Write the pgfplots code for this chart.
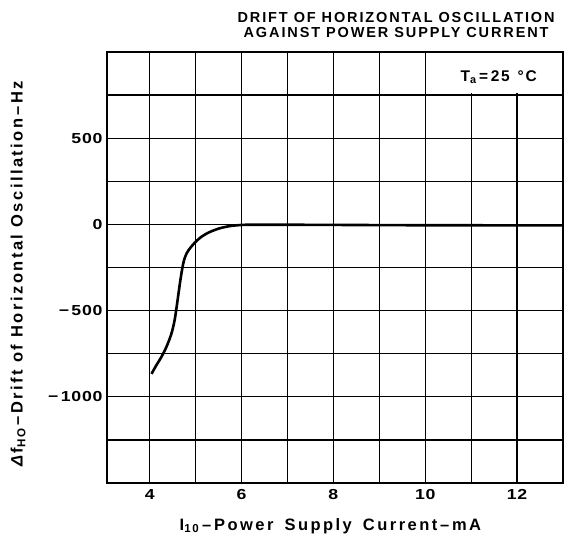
\documentclass[border=0pt]{standalone}
\usepackage{fontspec}
\setmainfont{Liberation Sans}
\usepackage{pgfplots}
\pgfplotsset{compat=1.18}
\newcommand{\tickfont}{\fontsize{14.5}{17}\selectfont\bfseries\addfontfeature{FakeStretch=1.22,LetterSpace=5}}
\newcommand{\labfont}{\fontsize{16.5}{19}\selectfont\bfseries\addfontfeature{LetterSpace=15}}
\begin{document}
\begin{tikzpicture}
\begin{axis}[
  scale only axis,
  width=456pt, height=431pt,
  xmin=3.07, xmax=13, ymin=-1500, ymax=1000,
  xtick={4,6,8,10,12},
  minor xtick={5,7,9,11},
  ytick={-1000,-500,0,500},
  yticklabels={−\,1000,−\,500,0,500},
  minor ytick={-1250,-750,-250,250,750},
  major tick length=0pt, minor tick length=0pt,
  grid=both,
  major grid style={black, line width=1.25pt},
  minor grid style={black, line width=1.25pt},
  axis line style={line width=1.8pt},
  tick label style={font=\tickfont},
  /pgf/number format/assume math mode=true,
  xticklabel style={yshift=-3pt},
  yticklabel style={xshift=-1pt},
  xlabel={I\textsubscript{10}\,–\,Power\hspace{4pt} Supply\hspace{4pt} Current\,–\,mA},
  ylabel={\textit{Δ}f\textsubscript{HO}\,–\,Drift of Horizontal Oscillation\,–\,Hz},
  label style={font=\labfont},
  xlabel style={at={(rel axis cs:0.49,-0.1)}, anchor=center},
  ylabel style={at={(rel axis cs:-0.195,0.485)}, anchor=center},
  clip=false,
]
\fill[white] (axis cs:10.04,765) rectangle (axis cs:12.97,992);
\node[font=\fontsize{15.5}{17}\selectfont\bfseries\addfontfeature{LetterSpace=12}] at (axis cs:11.6,855) {T\textsubscript{a}\,=\,25\enspace °C};
\addplot[black, line width=2.6pt, smooth, tension=0.5] coordinates {
(4.04,-867) (4.14,-819) (4.25,-771) (4.36,-713) (4.47,-636) (4.54,-559)
(4.59,-472) (4.63,-395) (4.67,-320) (4.71,-255) (4.75,-205) (4.81,-165)
(4.89,-134) (4.99,-104) (5.12,-73) (5.30,-45) (5.52,-23) (5.74,-10) (5.96,-4)
(6.17,-2) (7,-2) (8,-3) (9,-4) (10,-5) (11,-5) (12,-6) (13,-6)
};
\node[font=\fontsize{14.5}{16}\selectfont\bfseries, align=center, inner sep=0pt]
  at ([yshift=27pt]rel axis cs:0.634,1)
  {\addfontfeature{LetterSpace=13}DRIFT OF HORIZONTAL OSCILLATION\\[-1pt]
   \addfontfeature{LetterSpace=13}AGAINST POWER SUPPLY CURRENT};
\coordinate (sw) at (rel axis cs:0,0);
\coordinate (ne) at (rel axis cs:1,1);
\end{axis}
\path ([shift={(-107pt,-64pt)}]sw) rectangle ([shift={(5pt,52pt)}]ne);
\end{tikzpicture}
\end{document}
